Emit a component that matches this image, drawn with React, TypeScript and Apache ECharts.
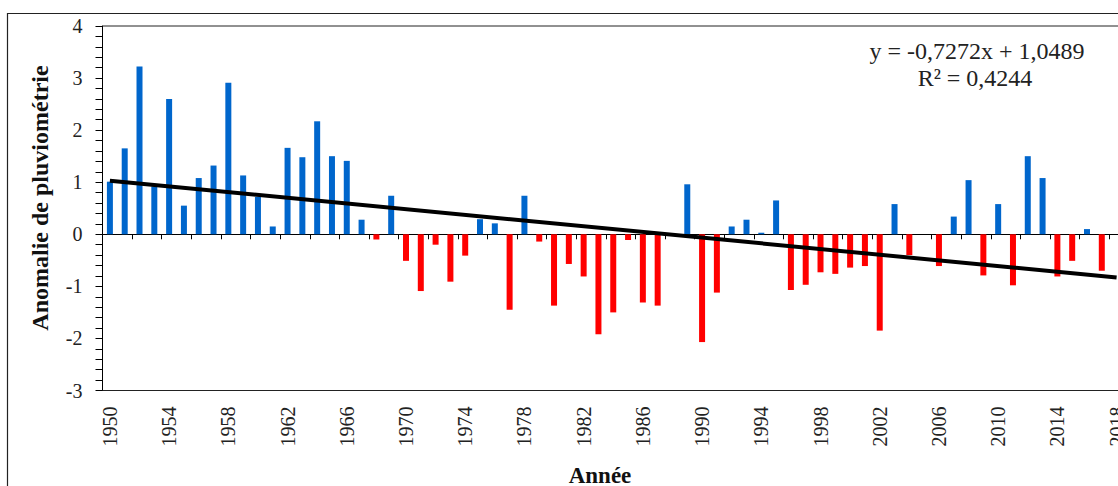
import React, { useEffect, useRef } from "react";
import * as echarts from "echarts";

const years: string[] = [];
for (let y = 1950; y <= 2018; y++) years.push(String(y));

const anomalies: number[] = [
  1.01, 1.65, 3.22, 0.92, 2.6, 0.55, 1.08, 1.32, 2.91, 1.13,
  0.72, 0.15, 1.66, 1.48, 2.17, 1.5, 1.41, 0.28, -0.1, 0.74,
  -0.51, -1.09, -0.2, -0.91, -0.41, 0.29, 0.21, -1.45, 0.74, -0.14,
  -1.37, -0.57, -0.81, -1.92, -1.5, -0.11, -1.31, -1.37, 0, 0.96,
  -2.07, -1.12, 0.15, 0.28, 0.03, 0.65, -1.07, -0.97, -0.73, -0.76,
  -0.64, -0.61, -1.85, 0.58, -0.4, 0, -0.61, 0.34, 1.04, -0.79,
  0.58, -0.98, 1.5, 1.08, -0.81, -0.51, 0.1, -0.7, 0,
];

const trendStart = 1.03;
const trendEnd = -0.83;

const equationLine1 = "y = -0,7272x + 1,0489";
const equationLine2 = "R² = 0,4244";

const FONT = "'Liberation Serif', 'Times New Roman', serif";

export default function App() {
  const ref = useRef<HTMLDivElement>(null);
  useEffect(() => {
    if (!ref.current) return;
    const chart = echarts.init(ref.current, null, { renderer: "svg" });
    const trend: (number | null)[] = years.map((_, i) =>
      i === 0 ? trendStart : i === years.length - 1 ? trendEnd : null
    );
    chart.setOption({
      animation: false,
      backgroundColor: "#fff",
      grid: {
        left: 102.5,
        top: 26,
        width: 1021.5,
        height: 364.5,
        outerBoundsMode: "none",
        containLabel: false,
        show: true,
        borderColor: "#222",
        borderWidth: 1,
        backgroundColor: "transparent",
      },
      xAxis: [
        {
          type: "category",
          data: years,
          position: "bottom",
          boundaryGap: true,
          axisLine: { show: true, onZero: true, lineStyle: { color: "#000", width: 1 } },
          axisTick: { show: true, interval: 1, length: 5, lineStyle: { color: "#000" } },
          axisLabel: { show: false },
          splitLine: { show: false },
        },
        {
          type: "category",
          data: years,
          position: "bottom",
          boundaryGap: true,
          axisLine: { show: true, onZero: false, lineStyle: { color: "#222" } },
          axisTick: { show: false },
          axisLabel: {
            show: true,
            interval: 3,
            rotate: 90,
            margin: 16,
            fontFamily: FONT,
            fontSize: 20,
            color: "#222",
          },
          splitLine: { show: false },
        },
      ],
      yAxis: {
        type: "value",
        min: -3,
        max: 4,
        interval: 1,
        axisLine: { show: true, lineStyle: { color: "#000" } },
        axisTick: { show: true, length: 7, lineStyle: { color: "#000" } },
        minorTick: { show: true, splitNumber: 5, length: 7, lineStyle: { color: "#000" } },
        splitLine: { show: false },
        axisLabel: { margin: 20, fontFamily: FONT, fontSize: 20, color: "#222" },
      },
      series: [
        {
          type: "bar",
          xAxisIndex: 0,
          data: anomalies,
          barWidth: 6,
          itemStyle: {
            color: (p: any) => (p.value >= 0 ? "#0066CC" : "#FF0000"),
          },
        },
        {
          type: "line",
          xAxisIndex: 0,
          data: trend,
          connectNulls: true,
          symbol: "none",
          lineStyle: { color: "#000", width: 4 },
          z: 5,
        },
      ],
      graphic: [
        {
          type: "rect",
          shape: { x: 7.5, y: 13.5, width: 1300, height: 700 },
          style: { fill: "none", stroke: "#222", lineWidth: 1.2 },
          silent: true,
        },
        {
          type: "text",
          x: 977,
          y: 51,
          style: {
            text: equationLine1,
            fontFamily: FONT,
            fontSize: 24,
            fill: "#222",
            textAlign: "center",
            textVerticalAlign: "middle",
          },
        },
        {
          type: "text",
          x: 975,
          y: 78,
          style: {
            text: equationLine2,
            fontFamily: FONT,
            fontSize: 24,
            fill: "#222",
            textAlign: "center",
            textVerticalAlign: "middle",
          },
        },
        {
          type: "text",
          x: 40,
          y: 198,
          rotation: Math.PI / 2,
          style: {
            text: "Anomalie de pluviométrie",
            fontFamily: FONT,
            fontSize: 24,
            fontWeight: "bold",
            fill: "#111",
            textAlign: "center",
            textVerticalAlign: "middle",
          },
        },
        {
          type: "text",
          x: 600,
          y: 475,
          style: {
            text: "Année",
            fontFamily: FONT,
            fontSize: 23,
            fontWeight: "bold",
            fill: "#111",
            textAlign: "center",
            textVerticalAlign: "middle",
          },
        },
      ],
    });
    return () => chart.dispose();
  }, []);
  return (
    <div
      ref={ref}
      style={{ position: "fixed", left: 0, top: 0, width: 1118, height: 486, background: "#fff" }}
    />
  );
}
